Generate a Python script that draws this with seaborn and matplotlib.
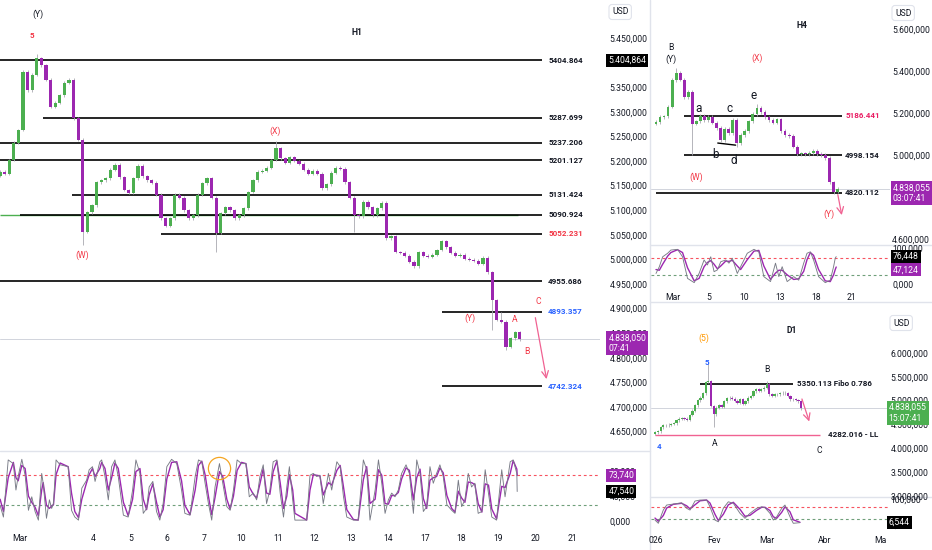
import numpy as np
import pandas as pd
import matplotlib
matplotlib.use("Agg")
import matplotlib.pyplot as plt
from matplotlib.lines import Line2D
from matplotlib.ticker import FuncFormatter
import seaborn as sns

W, H = 932, 550

# ---------------- data ----------------
# H1 (left chart), 3h candles, closes
h1_open0 = 5170
h1_close = [
    5178, 5174, 5202, 5237, 5263, 5381, 5344, 5375, 5409, 5395,
    5365, 5310, 5318, 5334, 5359, 5365, 5287, 5243, 5056, 5096,
    5110, 5157, 5161, 5165, 5182, 5192, 5167, 5141, 5135, 5165,
    5190, 5169, 5161, 5156, 5131, 5084, 5068, 5084, 5131, 5125,
    5100, 5084, 5090, 5131, 5155, 5165, 5125, 5054, 5094, 5106,
    5100, 5084, 5090, 5104, 5137, 5161, 5178, 5180, 5186, 5202,
    5226, 5206, 5196, 5208, 5200, 5194, 5182, 5174, 5180, 5174,
    5145, 5153, 5176, 5186, 5184, 5157, 5125, 5090, 5088, 5117,
    5106, 5090, 5104, 5115, 5043, 5047, 5015, 5013, 5007, 4995,
    4986, 5015, 5007, 5005, 5009, 5019, 5037, 5025, 5013, 5007,
    5009, 5001, 4999, 4997, 4991, 5003, 4974, 4917, 4877, 4873,
    4822, 4840, 4852, 4838]
h1_extremes = {8: (5418, None), 18: (None, 5029), 47: (None, 5015), 60: (5240, None),
               77: (None, 5056), 107: (None, 4856), 109: (4893, None), 110: (None, 4816)}
h1_levels = [5404.864, 5287.699, 5237.206, 5201.127, 5131.424,
             5090.924, 5052.231, 4955.686, 4893.357, 4742.324]
h1_last = 4838.050

h1_stoch_t = [
    -0.54, -0.45, -0.32, -0.18, -0.11, -0.05, 0.05, 0.14, 0.23, 0.32,
    0.41, 0.50, 0.59, 0.63, 0.72, 0.80, 0.86, 0.91, 0.98, 1.09,
    1.31, 1.40, 1.49, 1.59, 1.68, 1.81, 1.88, 1.97, 2.04, 2.17,
    2.22, 2.31, 2.40, 2.49, 2.58, 2.67, 2.81, 2.94, 3.06, 3.15,
    3.26, 3.35, 3.44, 3.51, 3.61, 3.71, 3.80, 3.89, 3.99, 4.12,
    4.26, 4.39, 4.48, 4.62, 4.76, 4.85, 4.94, 5.03, 5.12, 5.21,
    5.30, 5.42, 5.51, 5.62, 5.71, 5.80, 5.90, 6.02, 6.14, 6.23,
    6.34, 6.43, 6.52, 6.61, 6.70, 6.79, 6.88, 6.98, 7.07, 7.16,
    7.25, 7.32, 7.41, 7.47, 7.79, 7.88, 7.97, 8.06, 8.15, 8.24,
    8.38, 8.47, 8.61, 8.70, 8.79, 8.88, 9.06, 9.19, 9.33, 9.42,
    9.51, 9.65, 9.74, 9.83, 9.92, 10.01, 10.10, 10.19, 10.28, 10.37,
    10.49, 10.58, 10.69, 10.78, 10.87, 10.96, 11.05, 11.14, 11.23, 11.32,
    11.41, 11.50, 11.60, 11.73, 11.82, 11.91, 12.00, 12.09, 12.18, 12.27,
    12.36, 12.45, 12.55, 12.64, 12.73, 12.82, 12.95, 13.09, 13.18, 13.32,
    13.40, 13.50, 13.51]
h1_stoch_k = [
    25, 6, 99, 93, 50, 72, 100, 74, 17, 39,
    15, 1, 77, 61, 4, 34, 20, 28, 99, 91,
    88, 17, 6, 1, 53, 66, 83, 88, 64, 96,
    99, 72, 34, 88, 99, 72, 9, 6, 50, 99,
    77, 12, 20, 55, 64, 15, 1, 28, 88, 100,
    93, 50, 12, 9, 72, 99, 96, 61, 28, 1,
    55, 93, 61, 23, 17, 50, 99, 93, 93, 39,
    45, 34, 72, 91, 28, 50, 96, 99, 45, 6,
    55, 88, 34, 1, 1, 74, 77, 72, 74, 28,
    77, 50, 96, 88, 39, 6, 1, 1, 99, 83,
    1, 50, 99, 61, 12, 34, 45, 39, 50, 77,
    91, 77, 12, 99, 77, 15, 23, 88, 61, 77,
    91, 72, 26, 17, 12, 66, 23, 34, 77, 55,
    61, 12, 15, 83, 45, 6, 1, 83, 39, 96,
    99, 77, 47.54]
h1_stoch_d = [
    35, 15, 70, 95, 70, 65, 90, 85, 40, 30,
    22, 8, 50, 62, 25, 20, 24, 26, 75, 94,
    88, 45, 15, 5, 35, 62, 75, 85, 72, 85,
    95, 85, 50, 70, 94, 85, 30, 8, 35, 80,
    85, 35, 18, 42, 60, 30, 6, 18, 68, 95,
    96, 65, 25, 10, 50, 90, 97, 75, 40, 10,
    38, 80, 72, 35, 19, 40, 82, 95, 93, 55,
    43, 37, 60, 85, 45, 43, 80, 97, 62, 20,
    40, 75, 50, 12, 1, 50, 75, 74, 73, 42,
    62, 58, 82, 90, 55, 18, 2, 1, 67, 88,
    28, 35, 83, 74, 28, 27, 41, 41, 46, 68,
    86, 82, 34, 70, 84, 36, 20, 66, 70, 72,
    86, 78, 41, 20, 14, 48, 37, 30, 63, 62,
    59, 28, 14, 60, 58, 19, 3, 56, 54, 77,
    98, 84, 73.74]
h1_days = ["Mar", "4", "5", "6", "7", "10", "11", "12", "13", "14", "17", "18", "19", "20", "21"]

# H4 (top right), closes
h4_open0 = 5150
h4_close = [
    5158, 5181, 5185, 5230, 5358, 5391, 5360, 5277, 5300, 5150,
    5160, 5188, 5167, 5181, 5155, 5129, 5070, 5125, 5105, 5167,
    5057, 5096, 5115, 5160, 5195, 5224, 5205, 5180, 5167, 5155,
    5170, 5115, 5095, 5090, 5040, 5005, 5008, 5005, 5010, 5020,
    5005, 5000, 4985, 4870, 4825, 4838]
h4_extremes = {5: (5415, None), 9: (None, 5000), 20: (None, 5040), 25: (5245, None), 44: (None, 4812)}
h4_levels = [5186.441, 4998.154, 4820.112]
h4_last = 4838.055
h4_stoch_t = [
    -1.42, -1.14, -0.86, -0.44, -0.17, 0.39, 0.81, 1.23, 1.79, 2.20,
    2.62, 2.90, 3.18, 3.46, 3.74, 4.02, 4.44, 4.71, 4.99, 5.41,
    5.69, 6.25, 6.81, 7.22, 7.64, 8.20, 8.62, 8.90, 9.18, 9.60,
    10.15, 10.57, 10.99, 11.27, 11.55, 11.82, 12.24, 12.80, 13.22, 13.50,
    13.64, 13.72]
h4_stoch_k = [
    29, 48, 76, 86, 95, 97, 76, 15, 3, 29,
    67, 53, 76, 34, 39, 62, 67, 58, 72, 29,
    48, 86, 97, 90, 20, 6, 58, 20, 48, 6,
    20, 10, 58, 86, 90, 67, 20, 3, 10, 48,
    72, 76.448]
h4_stoch_d = [
    40, 38, 55, 78, 88, 96, 88, 45, 8, 15,
    48, 60, 65, 55, 42, 50, 64, 63, 66, 50,
    40, 68, 92, 94, 50, 12, 30, 38, 38, 25,
    12, 14, 35, 68, 88, 80, 40, 8, 6, 25,
    40, 47.124]
h4_days = ["Mar", "5", "10", "13", "18", "21"]

# D1 (bottom right), closes
d1_open0 = 4300
d1_close = [
    4333, 4360, 4440, 4480, 4486, 4495, 4510, 4527, 4590, 4625,
    4631, 4625, 4596, 4700, 4790, 4900, 5010, 5063, 5150, 5390,
    5408, 4888, 4715, 4850, 4900, 4870, 4990, 5050, 5063, 5040,
    5000, 4958, 5027, 4930, 4990, 5063, 5096, 5200, 5235, 5205,
    5235, 5271, 5340, 5131, 5096, 5131, 5130, 5155, 5167, 5150,
    5096, 5027, 5027, 5013, 4990, 4838]
d1_extremes = {20: (5780, None), 22: (None, 4440), 42: (5420, None)}
d1_fibo = 5350.113
d1_ll = 4282.016
d1_last = 4838.055
d1_stoch_t = [
    -1.13, 0.13, 2.0, 3.27, 5.79, 8.93, 10.82, 12.08, 13.96, 15.85,
    18.36, 19.62, 21.51, 22.77, 24.65, 26.54, 28.42, 30.94, 32.83, 34.72,
    37.23, 39.13, 40.38, 42.26, 43.51, 44.79, 46.68, 47.92, 49.81, 51.06,
    53.58]
d1_stoch_k = [
    17, 4, 57, 77, 81, 86, 64, 57, 93, 97,
    97, 70, 17, 10, 64, 90, 84, 44, 24, 44,
    64, 70, 66, 44, 17, 30, 64, 77, 30, 4,
    6.544]
d1_stoch_d = [
    25, 12, 35, 65, 80, 84, 74, 62, 78, 94,
    97, 85, 40, 15, 40, 78, 88, 60, 32, 36,
    56, 68, 68, 55, 30, 24, 48, 70, 50, 18,
    8]
d1_months = ["026", "Fev", "Mar", "Abr", "Ma"]

# ---------------- style ----------------
UP = "#4caf50"
DOWN = "#9c27b0"
WICK = "#a8a8b0"
RED = "#f23645"
BLUE = "#2962ff"
PINK = "#f06292"
TXT = "#131722"
SEP = "#e0e3eb"

sns.set_theme(style="white")
plt.rcParams["font.family"] = ["Roboto", "DejaVu Sans"]

fig = plt.figure(figsize=(W / 100, H / 100), dpi=100)
fig.patch.set_facecolor("white")


def add_ax(x0, y0, x1, y1):
    ax = fig.add_axes([x0 / W, 1 - y1 / H, (x1 - x0) / W, (y1 - y0) / H])
    ax.set_facecolor("none")
    for s in ax.spines.values():
        s.set_visible(False)
    ax.grid(False)
    return ax


def price_fmt(v, pos=None):
    return f"{v:,.3f}".replace(",", "#").replace(".", ",").replace("#", ".")


def stoch_fmt(v, pos=None):
    return f"{v:.3f}".replace(".", ",")


def candles(ax, x, closes, open0, wick, extremes, width, min_h):
    c = np.array(closes, dtype=float)
    o = np.r_[open0, c[:-1]]
    hi = np.maximum(o, c) + wick
    lo = np.minimum(o, c) - wick
    for i, (hv, lv) in extremes.items():
        if hv is not None:
            hi[i] = hv
        if lv is not None:
            lo[i] = lv
    cols = np.where(c >= o, UP, DOWN)
    ax.vlines(x, lo, hi, colors=WICK, lw=0.6, zorder=3)
    ax.bar(x, np.maximum(np.abs(c - o), min_h), bottom=np.minimum(o, c),
           width=width, color=cols, lw=0, zorder=4)


def right_axis(ax, ticks, fmt, pad):
    ax.yaxis.tick_right()
    ax.set_yticks(ticks)
    ax.yaxis.set_major_formatter(FuncFormatter(fmt))
    ax.tick_params(axis="y", length=0, pad=pad, labelsize=6.2, labelcolor=TXT)


def tag(ax, val, text, fc, dx, dy=0, fg="white", va="center"):
    ax.annotate(text, xy=(1, val), xycoords=("axes fraction", "data"),
                xytext=(dx, dy), textcoords="offset points", ha="left", va=va,
                fontsize=6.2, color=fg, annotation_clip=False, zorder=10,
                linespacing=1.25,
                bbox=dict(boxstyle="square,pad=0.25", fc=fc, ec="none"))


def stoch(ax, t, k, d, lo_lvl, hi_lvl):
    ax.axhline(hi_lvl, color="#f7525f", lw=0.8, ls=(0, (2.5, 2.5)), zorder=1)
    ax.axhline(lo_lvl, color="#6f9f7a", lw=0.8, ls=(0, (2.5, 2.5)), zorder=1)
    sns.lineplot(x=t, y=d, color=DOWN, lw=1.0, ax=ax, zorder=3)
    sns.lineplot(x=t, y=k, color="#787b86", lw=0.65, ax=ax, zorder=4)
    ax.set_xlabel("")
    ax.set_ylabel("")


def hline(ax, y, x0, x1, color="black", lw=1.2):
    ax.plot([x0, x1], [y, y], color=color, lw=lw, solid_capstyle="butt", zorder=2)


def note(ax, x, y, s, color=TXT, size=6.2, weight="normal", ha="center"):
    ax.text(x, y, s, color=color, fontsize=size, fontweight=weight,
            ha=ha, va="center", zorder=6)


# ---------------- H1 ----------------
ax1 = add_ax(0, 0, 600, 451)
ax1s = add_ax(0, 452, 600, 530)
xl1 = (-0.543, 15.76)
for a in (ax1, ax1s):
    a.set_xlim(*xl1)
ax1.set_ylim(4610.4, 5527.3)
ax1s.set_ylim(-15.1, 111.9)

x1 = -0.5435 + 0.125 * np.arange(len(h1_close))
ax1.axhline(h1_last, color="#d1d4dc", lw=0.7, zorder=1)
hline(ax1, h1_levels[5], -0.543, 13.53, color=UP, lw=1.0)
starts = [-0.543, 0.625, -0.543, -0.543, 1.413, 0.0, 3.83, -0.543, 11.47, 11.47]
lab_cols = [TXT] * 6 + [RED, TXT, BLUE, BLUE]
for lv, s0, lc in zip(h1_levels, starts, lab_cols):
    hline(ax1, lv, s0, 14.18)
    ax1.text(14.35, lv, f"{lv:.3f}", color=lc, fontsize=5.8, fontweight="bold",
             ha="left", va="center", zorder=6)
candles(ax1, x1, h1_close, h1_open0, 3, h1_extremes, 0.09, 1.5)

note(ax1, 0.49, 5499, "(Y)")
note(ax1, 0.33, 5456, "5", color=RED, weight="bold", size=5.8)
note(ax1, 9.16, 5462, "H1", weight="bold", size=6.2)
note(ax1, 6.93, 5261, "(X)", color=RED)
note(ax1, 1.68, 5009, "(W)", color=RED)
note(ax1, 14.08, 4915, "C", color=RED)
note(ax1, 12.23, 4881, "(Y)", color=RED)
note(ax1, 13.45, 4877, "A", color=RED)
note(ax1, 13.78, 4812, "B", color=RED)
ax1.annotate("", xy=(14.32, 4751), xytext=(13.99, 4887),
             arrowprops=dict(arrowstyle="->", color=PINK, lw=0.9), zorder=6)

right_axis(ax1, np.arange(4650, 5451, 50), price_fmt, 7)
ax1.set_xticks([])
tag(ax1, 5404.864, price_fmt(5404.864), "black", 6)
tag(ax1, h1_last, price_fmt(h1_last) + "\n07:41", DOWN, 6, dy=4, va="top")

stoch(ax1s, h1_stoch_t, h1_stoch_k, h1_stoch_d, 25, 75)
ax1s.plot([5.41], [86], marker="o", ms=16, mfc="none", mec="#f5a623", mew=0.9, zorder=5)
right_axis(ax1s, [0, 40, 80], stoch_fmt, 7)
ax1s.set_xticks([0] + list(range(2, 16)), h1_days)
ax1s.tick_params(axis="x", length=0, pad=3, labelsize=6.2, labelcolor=TXT)
tag(ax1s, 73.74, "73,740", DOWN, 6)
tag(ax1s, 47.54, "47,540", "black", 6)

# ---------------- H4 ----------------
ax4 = add_ax(651, 0, 890, 244)
ax4s = add_ax(651, 245, 890, 290)
for a in (ax4, ax4s):
    a.set_xlim(-1.84, 18.24)
ax4.set_ylim(4575, 5740)
ax4s.set_ylim(-17.8, 109.3)

x4 = -1.42 + 0.339 * np.arange(len(h4_close))
ax4.axhline(h4_last, color="#d1d4dc", lw=0.7, zorder=1)
for lv, s0, lc in zip(h4_levels, [0.92, 0.92, -1.42], ["#e91e63", TXT, TXT]):
    hline(ax4, lv, s0, 14.23)
    ax4.text(14.48, lv, f"{lv:.3f}", color=lc, fontsize=5.8, fontweight="bold",
             ha="left", va="center", zorder=6)
ax4.plot([3.77, 5.27], [5057, 5047], color="black", lw=1.0, zorder=2)
candles(ax4, x4, h4_close, h4_open0, 8, h4_extremes, 0.23, 4)

note(ax4, -0.17, 5515, "B")
note(ax4, -0.17, 5458, "(Y)")
note(ax4, 7.03, 5463, "(X)", color=RED)
note(ax4, 10.88, 5616, "H4", weight="bold")
for s, xx, yy in [("e", 6.78, 5282), ("a", 2.18, 5220), ("c", 4.77, 5220),
                  ("b", 3.60, 5000), ("d", 5.10, 4976)]:
    note(ax4, xx, yy, s, size=8.5)
note(ax4, 1.92, 4895, "(W)", color=RED)
note(ax4, 13.14, 4718, "(Y)", color=RED)
ax4.annotate("", xy=(14.23, 4700), xytext=(13.81, 4824),
             arrowprops=dict(arrowstyle="->", color=PINK, lw=0.9), zorder=6)

right_axis(ax4, np.arange(4600, 5601, 200), price_fmt, 1.5)
ax4.set_xticks([])
tag(ax4, h4_last, price_fmt(h4_last) + "\n03:07:41", DOWN, 2, dy=4, va="top")

stoch(ax4s, h4_stoch_t, h4_stoch_k, h4_stoch_d, 25, 72)
right_axis(ax4s, [0, 100], stoch_fmt, 1.5)
ax4s.set_xticks([0, 3, 6, 9, 12, 15], h4_days)
ax4s.tick_params(axis="x", length=0, pad=2.5, labelsize=6.2, labelcolor=TXT)
tag(ax4s, 76.448, "76,448", "black", 2)
tag(ax4s, 47.124, "47,124", DOWN, 2, dy=-2)

# ---------------- D1 ----------------
axd = add_ax(651, 305, 888, 496)
axds = add_ax(651, 497, 888, 530)
for a in (axd, axds):
    a.set_xlim(-2.64, 86.8)
axd.set_ylim(3027, 7006)
axds.set_ylim(-22.8, 109.2)

xd = np.arange(len(d1_close)) - 1
axd.axhline(d1_last, color="#d1d4dc", lw=0.7, zorder=1)
hline(axd, d1_fibo, 15.85, 50.9)
axd.text(52.5, d1_fibo, f"{d1_fibo:.3f} Fibo 0.786", fontsize=5.8, fontweight="bold",
         color=TXT, ha="left", va="center", zorder=6)
hline(axd, d1_ll, -1.13, 61.1, color=PINK, lw=1.0)
axd.text(64.2, d1_ll, f"{d1_ll:.3f} - LL", fontsize=5.8, fontweight="bold",
         color=TXT, ha="left", va="center", zorder=6)
candles(axd, xd, d1_close, d1_open0, 30, d1_extremes, 0.85, 12)

note(axd, 17.4, 6319, "(5)", color="#ff9800")
note(axd, 18.5, 5798, "5", color=BLUE, weight="bold", size=5.8)
note(axd, 41.1, 5652, "B")
note(axd, 21.5, 4111, "A")
note(axd, 0.38, 4048, "4", color=BLUE, weight="bold", size=5.8)
note(axd, 60.8, 3944, "C")
note(axd, 50.6, 6464, "D1", weight="bold")
axd.annotate("", xy=(57.4, 4507), xytext=(54.0, 5090),
             arrowprops=dict(arrowstyle="->", color=PINK, lw=0.9), zorder=6)

right_axis(axd, np.arange(3000, 6001, 500), price_fmt, 2)
axd.set_xticks([])
tag(axd, d1_last, price_fmt(d1_last) + "\n15:07:41", UP, 0.5, dy=4, va="top")

stoch(axds, d1_stoch_t, d1_stoch_k, d1_stoch_d, 20, 70)
right_axis(axds, [0, 100], stoch_fmt, 2)
axds.set_xticks([-1, 21, 41, 63, 84], d1_months)
axds.tick_params(axis="x", length=0, pad=4, labelsize=6.2, labelcolor=TXT)
tag(axds, 6.544, "6,544", "black", 0.5)

# ---------------- frame / separators ----------------
def fig_line(xs, ys):
    fig.add_artist(Line2D([x / W for x in xs], [1 - y / H for y in ys],
                          transform=fig.transFigure, color=SEP, lw=1, zorder=0))


fig_line([650, 650], [0, 550])
fig_line([0, 650], [451, 451])
fig_line([650, 932], [244.5, 244.5])
fig_line([650, 932], [302, 302])
fig_line([650, 932], [496.5, 496.5])

for xx, yy in [(612, 12), (895, 13), (893, 323)]:
    fig.text(xx / W, 1 - yy / H, "USD", fontsize=6.2, color=TXT, ha="left", va="center",
             bbox=dict(boxstyle="round,pad=0.35", fc="white", ec=SEP, lw=0.8))

fig.savefig("out.png", dpi=100, facecolor="white")
